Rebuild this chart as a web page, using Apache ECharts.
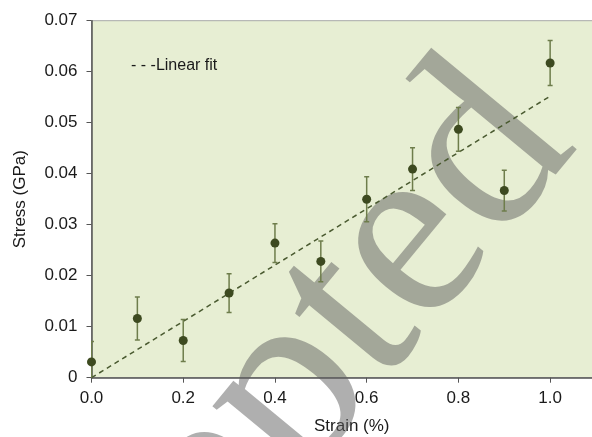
<!DOCTYPE html>
<html>
<head>
<meta charset="utf-8">
<script src="https://cdn.jsdelivr.net/npm/echarts@6/dist/echarts.min.js"></script>
<style>
html,body{margin:0;padding:0;background:#fff;}
#chart{width:592px;height:437px;}
</style>
</head>
<body>
<div id="chart"></div>
<script>
const strain = [0.0, 0.1, 0.2, 0.3, 0.4, 0.5, 0.6, 0.7, 0.8, 0.9, 1.0];
const stress = [0.0031, 0.0116, 0.0073, 0.0166, 0.0264, 0.0228, 0.0350, 0.0409, 0.0487, 0.0367, 0.0617];
const stressErr = [0.0040, 0.0042, 0.0041, 0.0038, 0.0038, 0.0040, 0.0044, 0.0042, 0.0043, 0.0040, 0.0044];
const fitX = [0.0, 1.0];
const fitY = [0.0, 0.0552];
const xTicks = [0.0, 0.2, 0.4, 0.6, 0.8, 1.0];
const yTicks = [0, 0.01, 0.02, 0.03, 0.04, 0.05, 0.06, 0.07];
const legendText = '- - -Linear fit';
const watermark = 'Accepted';

const chart = echarts.init(document.getElementById('chart'), null, {renderer: 'canvas'});
const font = '"Liberation Sans", Arial, sans-serif';

const points = strain.map((x, i) => [x, stress[i]]);
const errData = strain.map((x, i) => [x, stress[i] - stressErr[i], stress[i] + stressErr[i]]);
const fitData = fitX.map((x, i) => [x, fitY[i]]);

chart.setOption({
  animation: false,
  backgroundColor: '#ffffff',
  grid: {
    left: 91.5, top: 20.7, right: -4, bottom: 59.3,
    containLabel: false, outerBoundsMode: 'none',
    show: true, backgroundColor: '#e7eed3', borderColor: '#a8a8a8', borderWidth: 1
  },
  xAxis: {
    type: 'value', min: 0, max: 1.1, interval: 0.2,
    name: 'Strain (%)', nameLocation: 'middle', nameGap: 40,
    nameTextStyle: {fontFamily: font, fontSize: 17, color: '#1a1a1a', padding: [0, 0, 0, 16]},
    axisLine: {show: true, onZero: false, lineStyle: {color: '#555555', width: 1.5}},
    axisTick: {show: true, length: 5, lineStyle: {color: '#555555', width: 1}},
    splitLine: {show: false},
    axisLabel: {
      fontFamily: font, fontSize: 17, color: '#1a1a1a', margin: 12,
      showMaxLabel: false,
      formatter: v => (xTicks.some(t => Math.abs(t - v) < 1e-6) ? v.toFixed(1) : '')
    }
  },
  yAxis: {
    type: 'value', min: 0, max: 0.07, interval: 0.01,
    name: 'Stress (GPa)', nameLocation: 'middle', nameGap: 63,
    nameTextStyle: {fontFamily: font, fontSize: 17, color: '#1a1a1a'},
    axisLine: {show: true, onZero: false, lineStyle: {color: '#555555', width: 1.5}},
    axisTick: {show: true, length: 5, lineStyle: {color: '#555555', width: 1}},
    splitLine: {show: false},
    axisLabel: {
      fontFamily: font, fontSize: 17, color: '#1a1a1a', margin: 14,
      formatter: v => {
        const t = yTicks.find(t => Math.abs(t - v) < 1e-9);
        if (t === undefined) return '';
        return t === 0 ? '0' : t.toFixed(2);
      }
    }
  },
  graphic: [
    {
      type: 'text', left: 131, top: 58,
      style: {text: legendText, font: '16px ' + font, fill: '#1a1a1a'}
    },
    {
      type: 'text', x: 527, y: 104, rotation: 0.88, z: 1, silent: true,
      style: {
        text: watermark, font: '255px "Liberation Serif", "Times New Roman", serif',
        fill: 'rgba(95,95,95,0.5)', textAlign: 'right', textVerticalAlign: 'middle'
      }
    }
  ],
  series: [
    {
      type: 'line', data: fitData, symbol: 'none', z: 3,
      lineStyle: {color: '#4a5a30', width: 1.5, type: [5, 4]}
    },
    {
      type: 'custom', data: errData, z: 4, clip: true,
      renderItem: (params, api) => {
        const x = api.value(0);
        const lo = api.coord([x, api.value(1)]);
        const hi = api.coord([x, api.value(2)]);
        const w = 2.5;
        const st = {stroke: '#6e7d4b', lineWidth: 1.5};
        return {
          type: 'group',
          children: [
            {type: 'line', shape: {x1: lo[0], y1: lo[1], x2: hi[0], y2: hi[1]}, style: st},
            {type: 'line', shape: {x1: lo[0] - w, y1: lo[1], x2: lo[0] + w, y2: lo[1]}, style: st},
            {type: 'line', shape: {x1: hi[0] - w, y1: hi[1], x2: hi[0] + w, y2: hi[1]}, style: st}
          ]
        };
      }
    },
    {
      type: 'scatter', data: points, symbol: 'circle', symbolSize: 9, z: 5,
      itemStyle: {color: '#3d4a20', opacity: 1}
    }
  ]
});
</script>
</body>
</html>
